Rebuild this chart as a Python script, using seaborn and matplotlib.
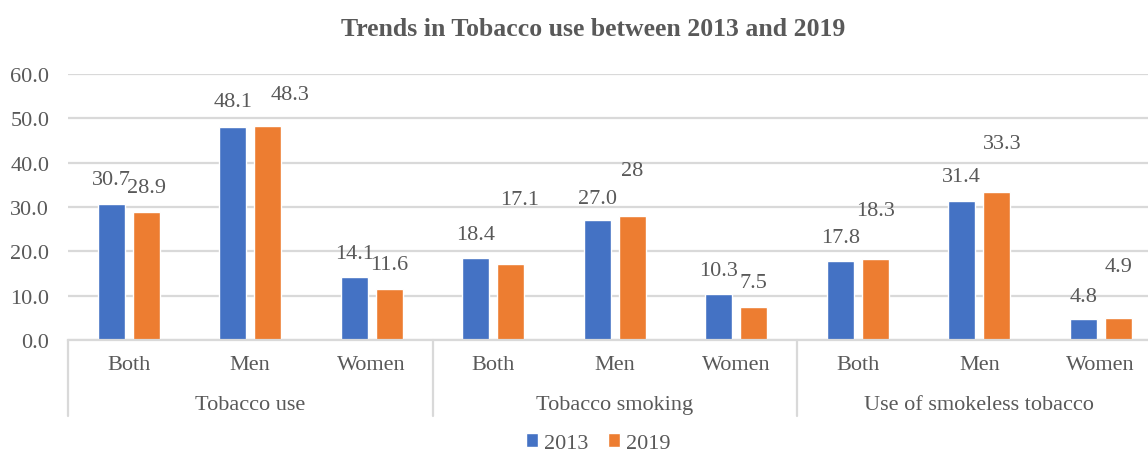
import matplotlib
matplotlib.use("Agg")
import matplotlib.pyplot as plt
import seaborn as sns
import pandas as pd
from matplotlib.patches import Patch

# ---- data ----
groups = ["Tobacco use", "Tobacco smoking", "Use of smokeless tobacco"]
subcats = ["Both", "Men", "Women"]
years = ["2013", "2019"]
values_2013 = [30.7, 48.1, 14.1, 18.4, 27.0, 10.3, 17.8, 31.4, 4.8]
values_2019 = [28.9, 48.3, 11.6, 17.1, 28.0, 7.5, 18.3, 33.3, 4.9]
labels_2013 = ["30.7", "48.1", "14.1", "18.4", "27.0", "10.3", "17.8", "31.4", "4.8"]
labels_2019 = ["28.9", "48.3", "11.6", "17.1", "28", "7.5", "18.3", "33.3", "4.9"]
yticks = [0, 10, 20, 30, 40, 50, 60]
title = "Trends in Tobacco use between 2013 and 2019"

# label placement (as in the reference, data units): heights and small x shifts
lab_y_2013 = [36.1, 53.7, 19.4, 23.7, 32.0, 15.6, 23.2, 36.8, 9.9]
lab_y_2019 = [34.5, 55.3, 17.1, 31.6, 38.3, 12.9, 29.3, 44.4, 16.5]
lab_dx_2019 = [0, 0.18, 0, 0.076, 0, 0, 0, 0.043, 0]

BLUE = "#4472C4"
ORANGE = "#ED7D31"
TXT = "#595959"
GRID = "#D9D9D9"
FS = 16

sns.set_theme(style="white")
plt.rcParams["font.family"] = ["Liberation Serif", "DejaVu Serif"]

keys = [f"{g}|{s}" for g in groups for s in subcats]
df = pd.DataFrame({
    "key": keys * 2,
    "year": [years[0]] * len(keys) + [years[1]] * len(keys),
    "value": values_2013 + values_2019,
})

W, H = 1148, 456
fig = plt.figure(figsize=(W / 100, H / 100), dpi=100)
ax = fig.add_axes([68 / W, (H - 341) / H, 1093.5 / W, 266 / H])

sns.barplot(data=df, x="key", y="value", hue="year", order=keys, hue_order=years,
            palette=[BLUE, ORANGE], width=0.576, gap=0.23, saturation=1,
            legend=False, ax=ax)

ax.set_xlim(-0.5, 8.5)
ax.set_ylim(0, 60)
ax.set_yticks(yticks)
ax.set_yticklabels([f"{v:.1f}" for v in yticks], fontsize=FS, color=TXT)
ax.yaxis.grid(True, color=GRID, linewidth=1.6)
ax.set_axisbelow(True)
for s in ["top", "right", "left"]:
    ax.spines[s].set_visible(False)
ax.spines["bottom"].set_color(GRID)
ax.spines["bottom"].set_linewidth(1.6)
ax.tick_params(axis="y", length=0, pad=13.5)
ax.set_xticks(range(len(keys)))
ax.set_xticklabels(subcats * len(groups), fontsize=FS, color=TXT)
ax.tick_params(axis="x", length=0, pad=11)
ax.set_xlabel("")
ax.set_ylabel("")

# value labels
n = len(keys)
bars = ax.patches
b13 = bars[:n]
b19 = bars[n:2 * n]
for i in range(n):
    p = b13[i]
    ax.text(p.get_x() + p.get_width() / 2, lab_y_2013[i], labels_2013[i],
            ha="center", va="center", fontsize=FS, color=TXT)
    p = b19[i]
    ax.text(p.get_x() + p.get_width() / 2 + lab_dx_2019[i], lab_y_2019[i], labels_2019[i],
            ha="center", va="center", fontsize=FS, color=TXT)

# group separators and group labels
ybot = -(417 - 341) / (266 / 60)
for xb in [-0.5, 2.5, 5.5, 8.5]:
    ax.plot([xb, xb], [0, ybot], color=GRID, linewidth=1.6, clip_on=False)
ygl = -(406 - 341) / (266 / 60)
for gi, g in enumerate(groups):
    ax.text(gi * 3 + 1, ygl, g, ha="center", va="center", fontsize=FS, color=TXT)

fig.text(593 / W, 1 - 29 / H, title, ha="center", va="center",
         fontsize=18.5, fontweight="bold", color=TXT)

handles = [Patch(facecolor=BLUE), Patch(facecolor=ORANGE)]
fig.legend(handles, years, loc="center", bbox_to_anchor=(598 / W, 1 - 444 / H),
           ncol=2, frameon=False, fontsize=FS, handlelength=0.55, handleheight=0.6,
           handletextpad=0.25, columnspacing=0.9, labelcolor=TXT,
           borderpad=0, borderaxespad=0)

fig.savefig("out.png", dpi=100)
